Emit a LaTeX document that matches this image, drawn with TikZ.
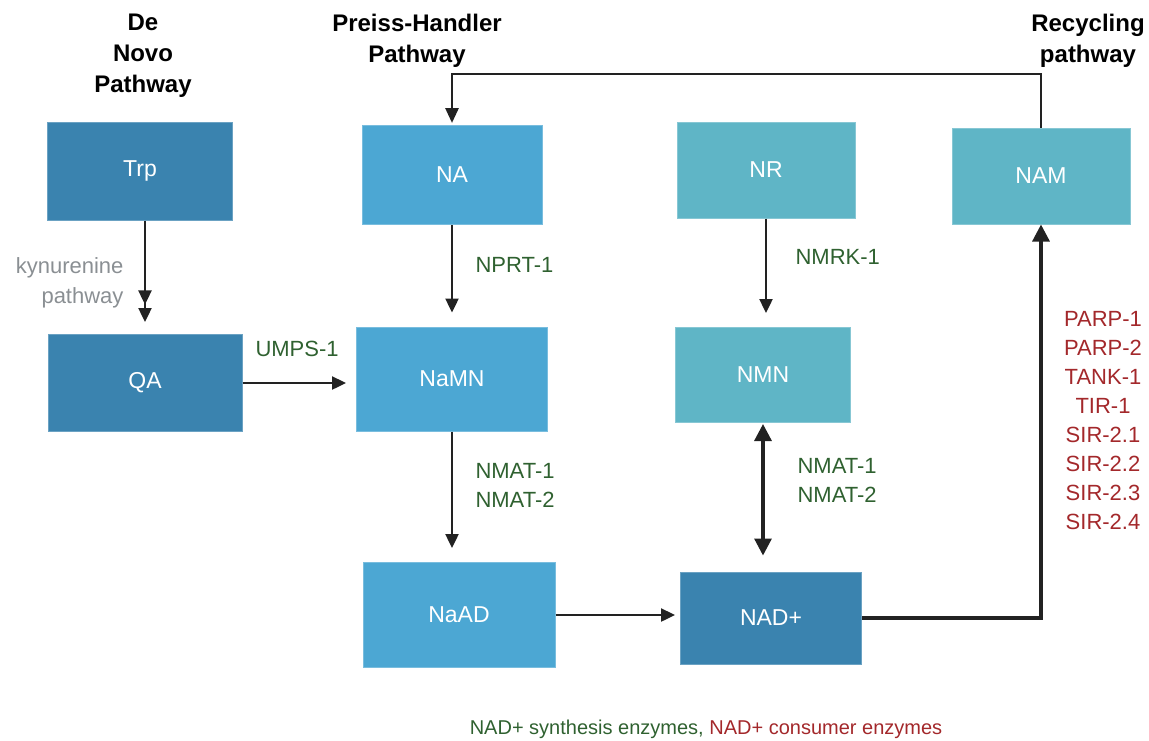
\documentclass[tikz,border=0pt]{standalone}
\usepackage{fontspec}
\setmainfont{Liberation Sans}
\usetikzlibrary{arrows.meta,decorations.markings}

\definecolor{darkblue}{HTML}{3A83AF}
\definecolor{midblue}{HTML}{4CA7D3}
\definecolor{tealblue}{HTML}{5FB5C6}
\definecolor{enzgreen}{HTML}{2F6130}
\definecolor{enzred}{HTML}{A3282B}
\definecolor{kyngray}{HTML}{8A8F93}
\definecolor{linegray}{HTML}{222222}

\begin{document}
\begin{tikzpicture}[x=1pt,y=-1pt,
  box/.style={draw=#1!75!white, line width=1pt, fill=#1, text=white,
    font=\fontsize{23}{27}\selectfont, inner sep=0pt},
  arr/.style={draw=linegray, line width=2.4pt, -{Triangle[width=13pt,length=14pt]}},
  bigarr/.style={draw=linegray, line width=3.2pt, -{Triangle[width=17pt,length=17pt]}},
  enz/.style={text=enzgreen, font=\fontsize{22}{29}\selectfont, align=left, anchor=west},
  title/.style={font=\bfseries\fontsize{24}{31}\selectfont, align=center}]

  \useasboundingbox (0,0) rectangle (1149,740);

  \node[title] (denovo) at (143,56) {De\\Novo\\Pathway};
  \node[title] (preiss) at (417,41) {Preiss-Handler\\Pathway};
  \node[title] (recyc) at (1088,41) {Recycling\\pathway};

  \node[box=darkblue, minimum width=185pt, minimum height=98pt] (Trp) at (140,171) {Trp};
  \node[box=darkblue, minimum width=194pt, minimum height=97pt] (QA) at (145,383) {QA};
  \node[box=midblue, minimum width=180pt, minimum height=99pt] (NA) at (452,175) {NA};
  \node[box=midblue, minimum width=191pt, minimum height=104pt] (NaMN) at (452,379) {NaMN};
  \node[box=midblue, minimum width=192pt, minimum height=105pt] (NaAD) at (459,615) {NaAD};
  \node[box=tealblue, minimum width=178pt, minimum height=96pt] (NR) at (766,170) {NR};
  \node[box=tealblue, minimum width=175pt, minimum height=95pt] (NMN) at (763,375) {NMN};
  \node[box=darkblue, minimum width=181pt, minimum height=92pt] (NAD) at (771,618) {NAD+};
  \node[box=tealblue, minimum width=178pt, minimum height=96pt] (NAM) at (1041,176) {NAM};

  \coordinate (top) at (0,74);

  % de novo branch, two heads on the kynurenine step
  \draw[arr, shorten >=12pt, postaction={decorate},
    decoration={markings, mark=at position 0.74 with {\arrow{Triangle[width=13pt,length=14pt]}}}]
    (QA.north |- Trp.south) -- (QA.north);
  \node[text=kyngray, font=\fontsize{22}{30}\selectfont, align=right, anchor=east]
    (kyn) at (127,283) {kynurenine\\pathway};

  \draw[arr, shorten >=10pt] (QA.east) -- (QA.east -| NaMN.west);
  \node[enz] (umps) at (252,349) {UMPS-1};

  \draw[arr, shorten >=14pt] (NA.south) -- (NA.south |- NaMN.north);
  \node[enz] (nprt) at (472,265) {NPRT-1};

  \draw[arr, shorten >=14pt] (NaMN.south) -- (NaMN.south |- NaAD.north);
  \node[enz] (nmat) at (472,485) {NMAT-1\\NMAT-2};

  \draw[arr, shorten >=14pt] (NR.south) -- (NR.south |- NMN.north);
  \node[enz] (nmrk) at (792,257) {NMRK-1};

  \draw[draw=linegray, line width=3.2pt,
    {Triangle[width=17pt,length=17pt]}-{Triangle[width=17pt,length=17pt]},
    shorten <=1pt, shorten >=16pt] (NMN.south) -- (NMN.south |- NAD.north);
  \node[enz] (nmatb) at (794,480) {NMAT-1\\NMAT-2};

  \draw[arr, shorten >=5pt] (NaAD.east) -- (NaAD.east -| NAD.west);

  % consumers give back NAM, NAM goes round to NA
  \draw[bigarr] (NAD.east) -| (NAM.south);
  \draw[draw=linegray, line width=2.8pt, -{Triangle[width=13pt,length=15pt]}, shorten >=2pt]
    (NAM.north) -- (NAM.north |- top) -| (NA.north);

  \node[text=enzred, font=\fontsize{22}{29}\selectfont, align=center] (consumers) at (1103,421)
    {PARP-1\\PARP-2\\TANK-1\\TIR-1\\SIR-2.1\\SIR-2.2\\SIR-2.3\\SIR-2.4};

  \node[font=\fontsize{20}{24}\selectfont] (legend) at (706,729)
    {\textcolor{enzgreen}{NAD+ synthesis enzymes,} \textcolor{enzred}{NAD+ consumer enzymes}};
\end{tikzpicture}
\end{document}
